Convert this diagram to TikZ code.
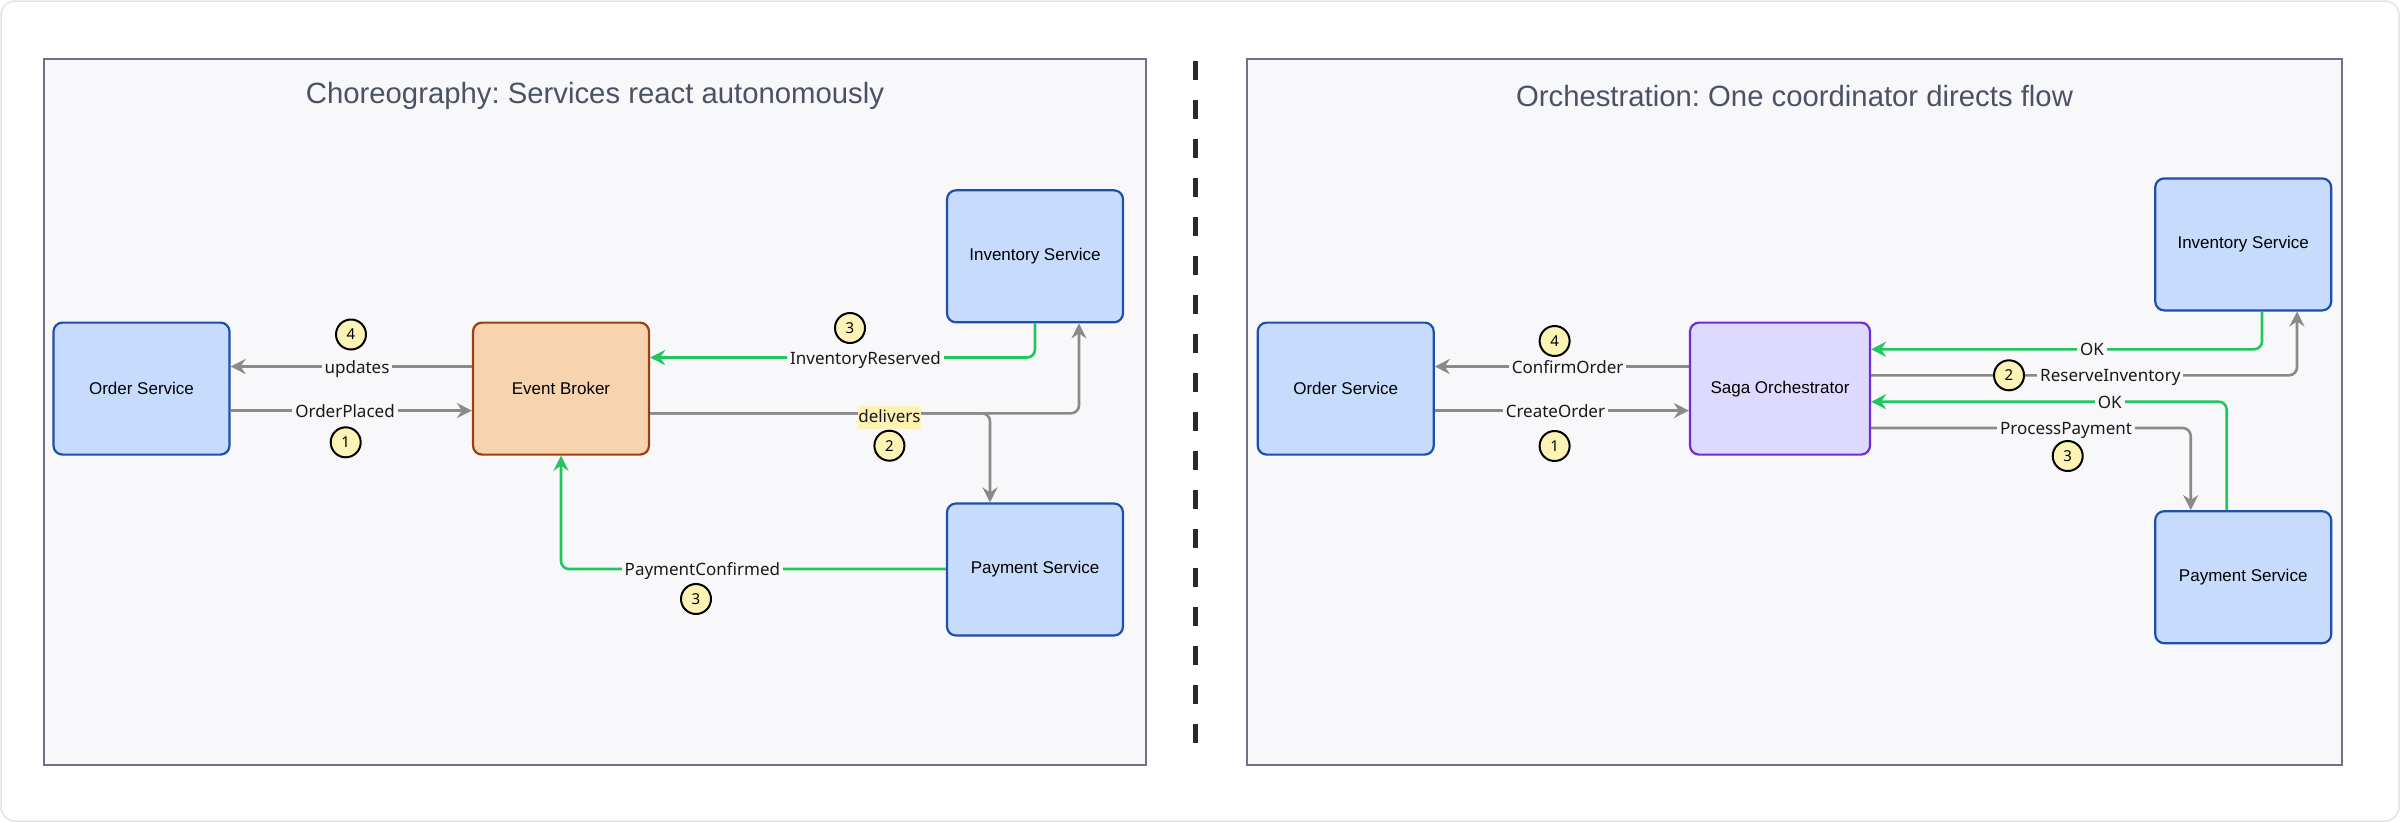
\documentclass[tikz,border=0pt]{standalone}
\usepackage{fontspec}
\setmainfont{Liberation Sans}
\newfontfamily\lblfont{Noto Sans}
\usetikzlibrary{arrows.meta}
\frenchspacing
\definecolor{svcfill}{HTML}{C7DCFC}
\definecolor{svcdraw}{HTML}{1E4FAA}
\definecolor{ebfill}{HTML}{F7D4AE}
\definecolor{ebdraw}{HTML}{9A4010}
\definecolor{sagafill}{HTML}{DED9FE}
\definecolor{sagadraw}{HTML}{6D2ED8}
\definecolor{edgegray}{HTML}{8A8A8A}
\definecolor{okgreen}{HTML}{22C55E}
\definecolor{panelbg}{HTML}{F8F8FB}
\definecolor{paneldraw}{HTML}{6E7287}
\definecolor{titlegray}{HTML}{4B5265}
\definecolor{badgefill}{HTML}{FCF3B5}
\definecolor{framegray}{HTML}{E0E3E7}
\definecolor{divider}{HTML}{2A2A2A}
\tikzset{
  svc/.style={rectangle, rounded corners=9pt, draw=svcdraw, fill=svcfill, line width=2.2pt,
    minimum width=176pt, minimum height=132pt, font=\fontsize{17}{20}\selectfont, text=black},
  broker/.style={svc, draw=ebdraw, fill=ebfill},
  saga/.style={svc, draw=sagadraw, fill=sagafill, minimum width=180pt},
  panel/.style={draw=paneldraw, fill=panelbg, line width=2pt},
  ptitle/.style={font=\fontsize{29.3}{34}\selectfont\frenchspacing, text=titlegray},
  elabel/.style={fill=panelbg, inner xsep=3pt, inner ysep=2pt, anchor=base, yshift=-6.5pt,
    font=\lblfont\fontsize{17}{20}\selectfont, text=black!90},
  hilabel/.style={fill=badgefill, inner xsep=0.5pt, inner ysep=1pt, text height=16pt, text depth=5pt,
    anchor=base, font=\lblfont\fontsize{17}{20}\selectfont, text=black!90},
  badge/.style={circle, draw=black, line width=2pt, fill=badgefill, minimum size=30pt, inner sep=0pt,
    font=\lblfont\fontsize{15}{17}\selectfont},
  tip/.style={-{Stealth[length=15pt,width=15pt,inset=5pt]}},
  garrow/.style={draw=edgegray, line width=2.6pt, tip, rounded corners=8pt},
  okarrow/.style={draw=okgreen, line width=2.6pt, tip, rounded corners=8pt},
}
\begin{document}
\begin{tikzpicture}[x=1pt,y=-1pt]
\useasboundingbox (0,0) rectangle (2400,822);
\draw[framegray, line width=1.5pt, fill=white, rounded corners=14pt] (1,1) rectangle (2399,821);

% ---------------- Left panel ----------------
\draw[panel] (44,58.5) rectangle (1146,764.5);
\node[ptitle] (t1) at (595,96) {Choreography: Services react autonomously};

\node[svc] (os1) at (141.5,388.6) {Order Service};
\node[broker] (eb) at (561,388.6) {Event Broker};
\node[svc] (inv1) at (1035,256.3) {Inventory Service};
\node[svc] (pay1) at (1035,569.5) {Payment Service};

\draw[garrow] (eb.west |- 0,366.5) -- (os1.east |- 0,366.5);
\draw[garrow] (os1.east |- 0,410.6) -- (eb.west |- 0,410.6);
\draw[okarrow] (inv1.south -| 1035,0) -- (1035,357.5) -- (eb.east |- 0,357.5);
\draw[garrow] (eb.east |- 0,413.3) -- (1079,413.3) -- (inv1.south -| 1079,0);
\draw[garrow] (eb.east |- 0,413.3) -- (990,413.3) -- (pay1.north -| 990,0);
\draw[okarrow] (pay1.west |- 0,569) -- (561,569) -- (eb.south);

\node[elabel] (l1a) at (357,366.5) {updates};
\node[badge] (b1a) at (351,334.5) {4};
\node[elabel] (l1b) at (345,410.6) {OrderPlaced};
\node[badge] (b1b) at (345.7,442.3) {1};
\node[elabel] (l1c) at (865.5,357.5) {InventoryReserved};
\node[badge] (b1c) at (850,328) {3};
\node[hilabel] (l1d) at (889.4,422.7) {delivers};
\node[badge] (b1d) at (889.4,445.7) {2};
\node[elabel] (l1e) at (702.4,569) {PaymentConfirmed};
\node[badge] (b1e) at (696,599) {3};

% ---------------- Divider ----------------
\draw[divider, line width=4.6pt, dash pattern=on 19pt off 20pt] (1195.5,61) -- (1195.5,746);

% ---------------- Right panel ----------------
\draw[panel] (1247.4,58.5) rectangle (2341.6,764.5);
\node[ptitle] (t2) at (1794.5,96) {Orchestration: One coordinator directs flow};

\node[svc] (os2) at (1345.7,388.6) {Order Service};
\node[saga] (sg) at (1780,388.6) {Saga Orchestrator};
\node[svc] (inv2) at (2243.2,244.4) {Inventory Service};
\node[svc] (pay2) at (2243.2,577.2) {Payment Service};

\draw[garrow] (sg.west |- 0,366.5) -- (os2.east |- 0,366.5);
\draw[garrow] (os2.east |- 0,410.6) -- (sg.west |- 0,410.6);
\draw[okarrow] (inv2.south -| 2262,0) -- (2262,349.3) -- (sg.east |- 0,349.3);
\draw[garrow] (sg.east |- 0,375.3) -- (2297,375.3) -- (inv2.south -| 2297,0);
\draw[okarrow] (pay2.north -| 2226.7,0) -- (2226.7,401.7) -- (sg.east |- 0,401.7);
\draw[garrow] (sg.east |- 0,428) -- (2190.7,428) -- (pay2.north -| 2190.7,0);

\node[elabel] (l2a) at (1567.6,366.5) {ConfirmOrder};
\node[badge] (b2a) at (1554.6,341) {4};
\node[elabel] (l2b) at (1555.4,410.6) {CreateOrder};
\node[badge] (b2b) at (1554.6,446) {1};
\node[elabel] (l2c) at (2092,349.3) {OK};
\node[elabel] (l2d) at (2110.3,375.3) {ReserveInventory};
\node[badge] (b2d) at (2009,375.3) {2};
\node[elabel] (l2e) at (2109.7,401.7) {OK};
\node[elabel] (l2f) at (2066,428) {ProcessPayment};
\node[badge] (b2f) at (2067.7,456) {3};
\end{tikzpicture}
\end{document}
